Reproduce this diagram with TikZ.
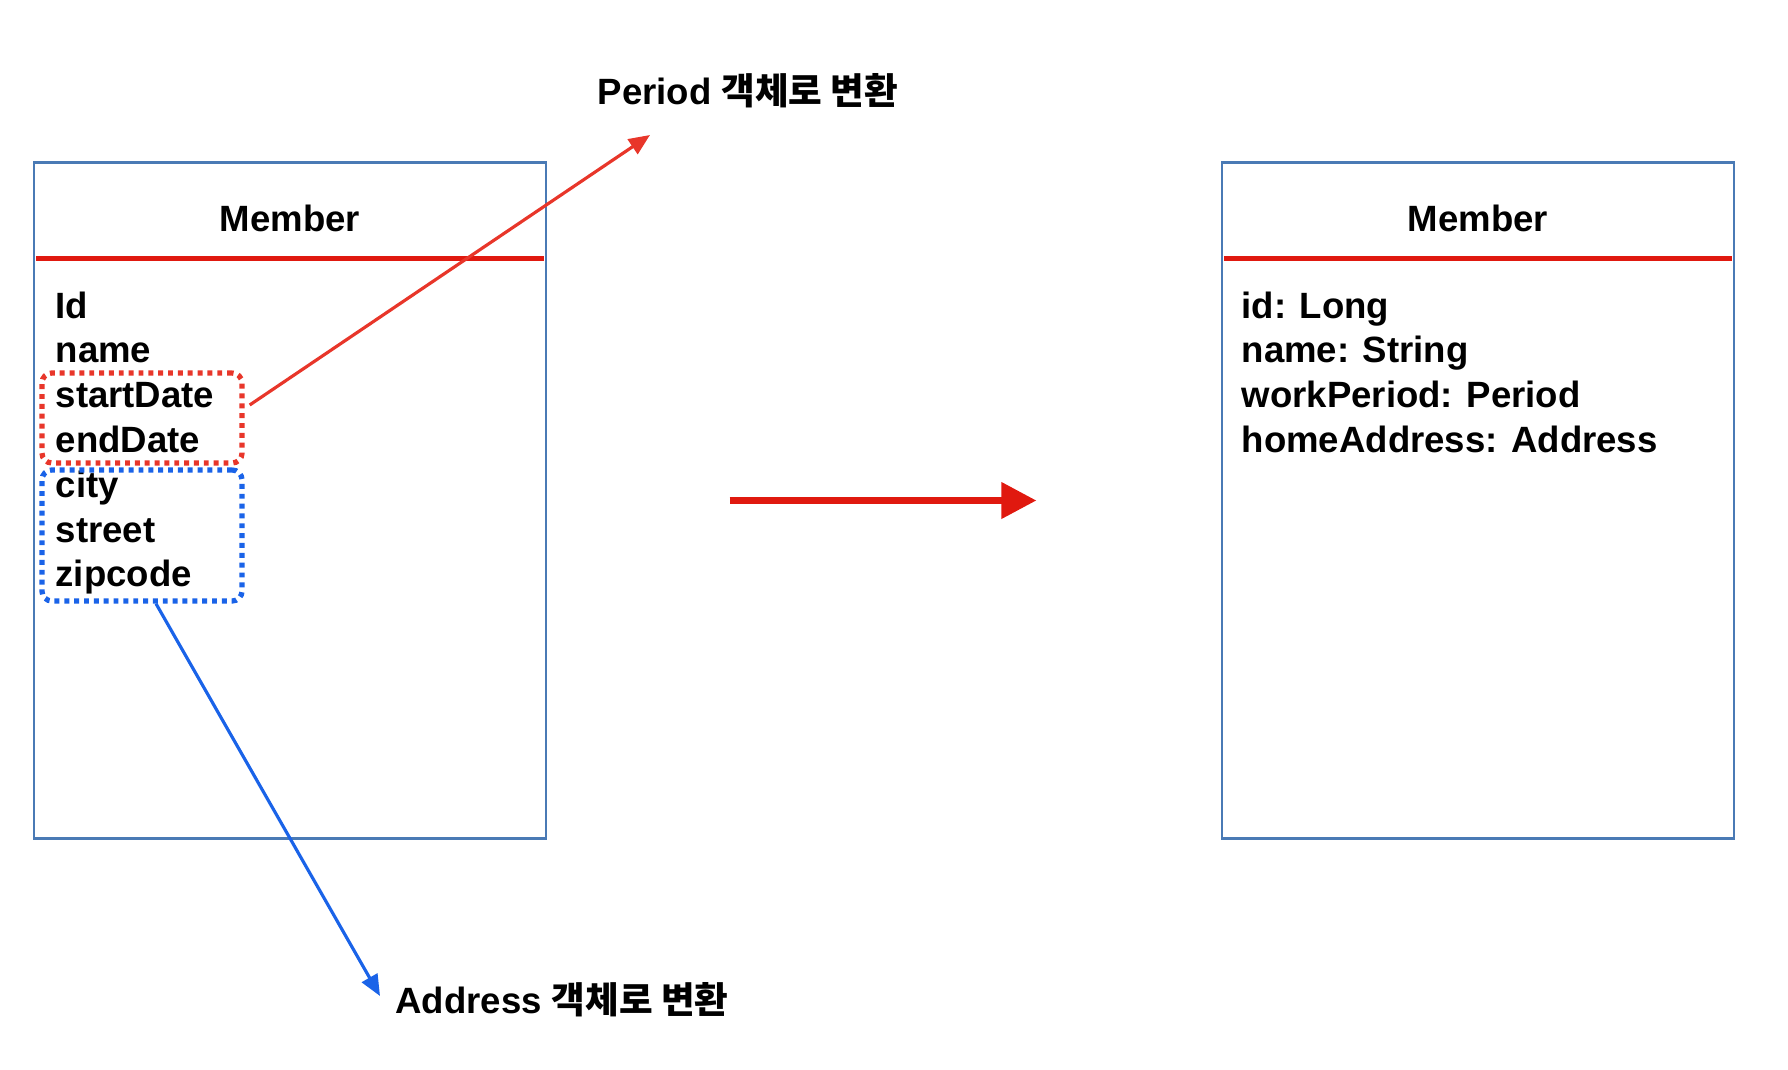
\documentclass[tikz,border=0pt]{standalone}
\usepackage{fontspec}
\setmainfont{Liberation Sans}
\newfontfamily\krfont{Noto Sans CJK KR}
\usetikzlibrary{arrows.meta}

\definecolor{boxblue}{HTML}{4A7AB5}
\definecolor{headred}{HTML}{E0190F}
\definecolor{linkred}{HTML}{E8362A}
\definecolor{linkblue}{HTML}{1A63E8}

\tikzset{
  classbox/.style={draw=boxblue, line width=0.75pt, minimum width=5.12cm, minimum height=6.75cm, inner sep=0pt},
  title/.style={inner sep=0pt},
  field/.style={anchor=base west, inner sep=0pt},
  headline/.style={draw=headred, line width=1.2pt, shorten <=1pt, shorten >=1pt},
  periodbox/.style={draw=linkred, line width=1.5pt, dash pattern=on 1.4pt off 1.4pt, rounded corners=0.1cm, minimum width=2cm, minimum height=0.9cm, inner sep=0pt},
  addrbox/.style={periodbox, draw=linkblue, minimum height=1.31cm},
  note/.style={inner sep=0pt},
  periodarrow/.style={->, draw=linkred, fill=linkred, line width=0.9pt},
  addrarrow/.style={->, draw=linkblue, fill=linkblue, line width=0.9pt},
  mainarrow/.style={-{Triangle[length=10pt,width=10pt]}, draw=headred, line width=2pt}
}

\begin{document}
\begin{tikzpicture}[x=0.01cm, y=-0.01cm, >={Triangle[length=6pt,width=5pt]},
  font=\bfseries\fontsize{10.4}{12.75}\selectfont]
\useasboundingbox (0,0) rectangle (1788,1070);

% the two classes
\node[classbox] (lbox) at (290,500.5) {};
\node[classbox] (rbox) at (1478,500.5) {};
\node[title] (ltitle) at (290,218) {Member};
\node[title] (rtitle) at (1478,218) {Member};
\draw[headline] ([yshift=-0.97cm]lbox.north west) -- ([yshift=-0.97cm]lbox.north east);
\draw[headline] ([yshift=-0.97cm]rbox.north west) -- ([yshift=-0.97cm]rbox.north east);

\foreach \t [count=\i] in {Id,name,startDate,endDate,city,street,zipcode}
    \node[field] (l\i) at (55,{318+44.8*(\i-1)}) {\t};

\foreach \t [count=\i] in {id: Long,name: String,workPeriod: Period,homeAddress: Address}
    \node[field] (r\i) at (1241,{318+44.8*(\i-1)}) {\t};

% grouped fields
\node[periodbox] (pbox) at (142,418) {};
\node[addrbox] (abox) at (142,535.5) {};

\node[note] (ptext) at (748,91) {Period {\krfont 객체로 변환}};
\node[note] (atext) at (562,1000) {Address {\krfont 객체로 변환}};
\coordinate (ptip) at (650,135);
\coordinate (atip) at (380,996);

\draw[periodarrow] ([xshift=0.05cm,yshift=0.13cm]pbox.east) -- (ptip);
\draw[addrarrow] ([xshift=0.14cm]abox.south) -- (atip);

\draw[mainarrow, shorten <=1.82cm, shorten >=1.84cm] (lbox) -- (rbox);

\end{tikzpicture}
\end{document}
